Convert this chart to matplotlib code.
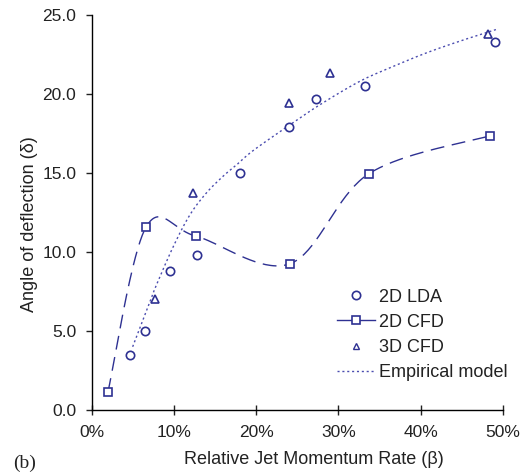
import numpy as np
import matplotlib
matplotlib.use('Agg')
import matplotlib.pyplot as plt
from matplotlib.lines import Line2D
from matplotlib.ticker import FuncFormatter, MultipleLocator

plt.rcParams['font.family'] = ['Liberation Sans', 'DejaVu Sans']

# values (x in %, y in degrees)
lda_x = [4.7, 6.5, 9.5, 12.8, 18.1, 24.0, 27.3, 33.2, 49.1]
lda_y = [3.5, 5.0, 8.8, 9.8, 15.0, 17.9, 19.7, 20.5, 23.3]

cfd2_x = [2.0, 6.6, 12.7, 24.1, 33.7, 48.4]
cfd2_y = [1.15, 11.55, 11.0, 9.25, 14.95, 17.35]

cfd3_x = [7.7, 12.3, 24.0, 29.0, 48.2]
cfd3_y = [7.0, 13.75, 19.4, 21.3, 23.8]

emp_x = [5.0, 7.0, 7.8, 9.9, 11.9, 13.9, 16.0, 17.6, 19.6, 23.7, 27.7, 32.6, 36.7, 40.7, 44.8, 49.3]
emp_y = [4.0, 6.7, 7.8, 10.3, 12.3, 13.7, 14.8, 15.5, 16.4, 17.9, 19.3, 20.8, 21.75, 22.6, 23.35, 24.1]

navy = '#2E3192'
dotcol = '#4B4DB0'
txt = '#222222'


def smooth(x, y, n=40):
    # excel-style smoothed line (catmull-rom as bezier)
    p = np.column_stack([x, y]).astype(float)
    p = np.vstack([p[0], p, p[-1]])
    out = []
    t = np.linspace(0, 1, n)[:, None]
    for i in range(1, len(p) - 2):
        p0, p1, p2, p3 = p[i - 1], p[i], p[i + 1], p[i + 2]
        c1 = p1 + (p2 - p0) / 6
        c2 = p2 - (p3 - p1) / 6
        seg = (1 - t) ** 3 * p1 + 3 * (1 - t) ** 2 * t * c1 + 3 * (1 - t) * t ** 2 * c2 + t ** 3 * p2
        out.append(seg)
    out = np.vstack(out)
    return out[:, 0], out[:, 1]


fig = plt.figure(figsize=(5.2, 4.76), dpi=100)
ax = fig.add_axes([0.1760, 0.1387, 0.791, 0.8298])

ex, ey = smooth(emp_x, emp_y)
ax.plot(ex, ey, color=dotcol, lw=1.0, dashes=(1.5, 2.0))

sx, sy = smooth(cfd2_x, cfd2_y)
ax.plot(sx, sy, color=navy, lw=1.0, dashes=(10, 5.5))

ax.plot(lda_x, lda_y, 'o', ms=6, mfc='white', mec=navy, mew=1.2, ls='none')
ax.plot(cfd2_x, cfd2_y, 's', ms=6, mfc='white', mec=navy, mew=1.2, ls='none')
ax.plot(cfd3_x, cfd3_y, '^', ms=6, mfc='none', mec=navy, mew=1.2, ls='none')

ax.set_xlim(0, 50)
ax.set_ylim(0, 25)
ax.xaxis.set_major_locator(MultipleLocator(10))
ax.yaxis.set_major_locator(MultipleLocator(5))
ax.xaxis.set_major_formatter(FuncFormatter(lambda v, p: '%d%%' % v))
ax.yaxis.set_major_formatter(FuncFormatter(lambda v, p: '%.1f' % v))
ax.spines['top'].set_visible(False)
ax.spines['right'].set_visible(False)
for s in ['left', 'bottom']:
    ax.spines[s].set_linewidth(1.0)
ax.tick_params(axis='x', direction='inout', length=7, width=1.0, labelsize=12.5, pad=7, colors=txt)
ax.tick_params(axis='y', direction='out', length=4, width=1.0, labelsize=12.5, pad=7, colors=txt)

ax.set_xlabel('Relative Jet Momentum Rate (β)', fontsize=13, color=txt, labelpad=8)
ax.xaxis.label.set_x(0.54)
ax.set_ylabel('Angle of deflection (δ)', fontsize=13, color=txt, labelpad=3)
ax.yaxis.label.set_y(0.47)

handles = [
    Line2D([], [], marker='o', ls='none', ms=6, mfc='white', mec=navy, mew=1.2),
    Line2D([], [], marker='s', ls='-', lw=1.0, color=navy, ms=6, mfc='white', mec=navy, mew=1.2),
    Line2D([], [], marker='^', ls='none', ms=5, mfc='none', mec=navy, mew=1.0),
    Line2D([], [], ls='-', lw=1.0, color=dotcol, dashes=(1.5, 2.0)),
]
labels = ['2D LDA', '2D CFD', '3D CFD', 'Empirical model']
ax.legend(handles, labels, loc='upper left', bbox_to_anchor=(0.575, 0.33), frameon=False,
          fontsize=13, handlelength=2.1, handletextpad=0.25, labelspacing=0.45, borderpad=0,
          labelcolor=txt)

fig.text(0.025, 0.016, '(b)', family='Liberation Serif', fontsize=14, color=txt)

fig.savefig('out.png', dpi=100)
